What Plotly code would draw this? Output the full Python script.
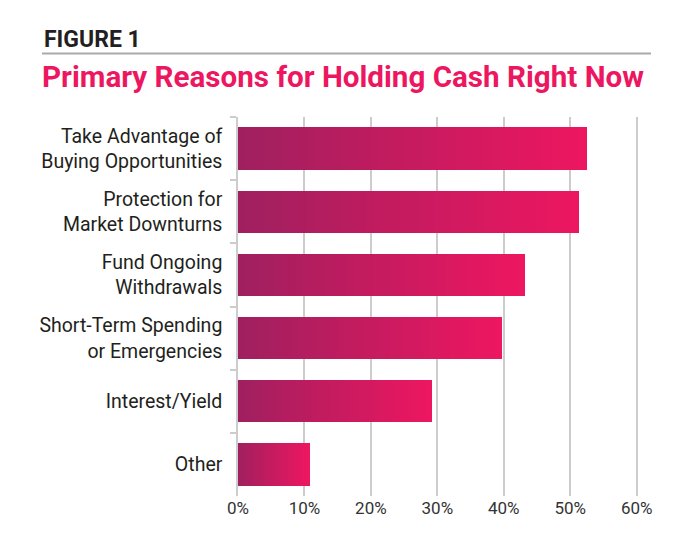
import plotly.graph_objects as go

# data (percent of respondents)
reasons = [
    "Take Advantage of<br>Buying Opportunities",
    "Protection for<br>Market Downturns",
    "Fund Ongoing<br>Withdrawals",
    "Short-Term Spending<br>or Emergencies",
    "Interest/Yield",
    "Other",
]
shares = [52.5, 51.3, 43.2, 39.8, 29.2, 10.8]
x_ticks = [0, 10, 20, 30, 40, 50, 60]
x_tick_labels = ["0%", "10%", "20%", "30%", "40%", "50%", "60%"]

# gradient along each bar, dark plum -> hot pink
left_rgb = (160, 32, 95)
right_rgb = (237, 22, 96)
n_steps = 40

fig = go.Figure()
for i in range(n_steps):
    t = i / (n_steps - 1)
    r = round(left_rgb[0] + (right_rgb[0] - left_rgb[0]) * t)
    g = round(left_rgb[1] + (right_rgb[1] - left_rgb[1]) * t)
    b = round(left_rgb[2] + (right_rgb[2] - left_rgb[2]) * t)
    fig.add_trace(go.Bar(
        y=reasons,
        x=[v / n_steps for v in shares],
        orientation="h",
        marker=dict(color=f"rgb({r},{g},{b})", line=dict(width=0)),
        showlegend=False,
        hoverinfo="skip",
    ))

# the page body adds an 8px offset, so the figure is drawn 8px smaller
fig.update_layout(
    width=692,
    height=536,
    barmode="stack",
    bargap=0.33,
    plot_bgcolor="white",
    paper_bgcolor="white",
    margin=dict(l=230, r=62, t=109, b=48),
    font=dict(family="Roboto", color="#231F20"),
)

fig.update_xaxes(
    range=[0, 60.2],
    tickvals=x_ticks,
    ticktext=x_tick_labels,
    tickfont=dict(size=17, color="#333333"),
    showgrid=True,
    gridcolor="#cccccc",
    gridwidth=1.5,
    zeroline=False,
    showline=False,
    ticks="",
    fixedrange=True,
)
fig.update_yaxes(
    autorange="reversed",
    tickfont=dict(size=19.5, color="#231F20"),
    showline=True,
    linecolor="#cccccc",
    linewidth=1.5,
    ticks="outside",
    tickson="boundaries",
    ticklen=6,
    tickcolor="#cccccc",
    tickwidth=1.5,
    ticklabelstandoff=10,
    fixedrange=True,
)

# headings, placed in paper units (plot spans 230..630 px across, 109..488 px down)
px_l = 230
px_b = 488
px_w = 400
px_h = 379
fig.add_annotation(
    text="<b>FIGURE 1</b>",
    xref="paper", yref="paper",
    x=(34 - px_l) / px_w, y=(px_b - 47) / px_h,
    xanchor="left", yanchor="bottom",
    showarrow=False,
    font=dict(family="Roboto", size=23, color="#231F20"),
)
fig.add_shape(
    type="line",
    xref="paper", yref="paper",
    x0=(34 - px_l) / px_w, x1=(643 - px_l) / px_w,
    y0=(px_b - 45.5) / px_h, y1=(px_b - 45.5) / px_h,
    line=dict(color="#aaaaaa", width=2),
)
fig.add_annotation(
    text="<b>Primary Reasons for Holding Cash Right Now</b>",
    xref="paper", yref="paper",
    x=(32 - px_l) / px_w, y=(px_b - 50) / px_h,
    xanchor="left", yanchor="top",
    showarrow=False,
    font=dict(family="Roboto", size=29.6, color="#EC1760"),
)

fig.write_html("out.html")
